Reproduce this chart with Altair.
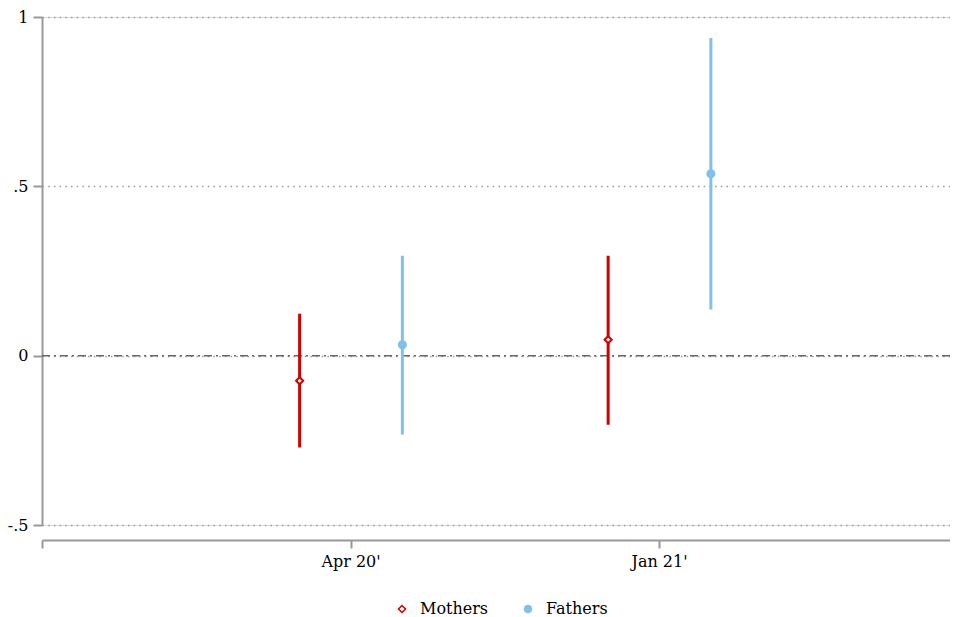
import altair as alt
import pandas as pd

series = ["Mothers", "Mothers", "Fathers", "Fathers"]
xpos = [0.835, 1.835, 1.168, 2.168]
estimate = [-0.074, 0.047, 0.032, 0.537]
ci_low = [-0.271, -0.204, -0.233, 0.136]
ci_high = [0.124, 0.295, 0.295, 0.938]

x_ticks = [0, 1, 2]
x_labels = ["", "Apr 20'", "Jan 21'"]
y_ticks = [-0.5, 0, 0.5, 1]
y_labels = ["-.5", "0", ".5", "1"]

df = pd.DataFrame({"series": series, "x": xpos, "est": estimate,
                   "lo": ci_low, "hi": ci_high})

FONT = "DejaVu Serif"
RED = "#d00000"
BLUE = "#80c0ea"

dom = ["Mothers", "Fathers"]
color = alt.Color("series:N", scale=alt.Scale(domain=dom, range=[RED, BLUE]),
                  legend=alt.Legend(title=None, orient="none", direction="horizontal",
                                    legendX=352, legendY=584, labelFont=FONT,
                                    labelFontSize=16, labelColor="black",
                                    symbolSize=50, columnPadding=31, padding=0,
                                    labelOffset=10))
shape = alt.Shape("series:N", scale=alt.Scale(domain=dom, range=["diamond", "circle"]))
fill = alt.Fill("series:N", scale=alt.Scale(domain=dom, range=["white", BLUE]))

xlabel_expr = " : ".join(
    f"datum.value == {v} ? \"{l}\"" for v, l in zip(x_ticks, x_labels)) + " : ''"
x = alt.X("x:Q", scale=alt.Scale(domain=[0, 2.943], nice=False, zero=False),
          axis=alt.Axis(values=x_ticks, labelExpr=xlabel_expr, title=None, grid=False,
                        offset=15, domainColor="#999999", domainWidth=2,
                        tickColor="#999999", tickWidth=2, tickSize=8,
                        labelFont=FONT, labelFontSize=16, labelColor="black",
                        labelPadding=5))
ylabel_expr = " : ".join(
    f"datum.value == {v} ? '{l}'" for v, l in zip(y_ticks, y_labels)) + " : ''"
y_axis = alt.Axis(values=y_ticks, labelExpr=ylabel_expr, title=None, grid=True,
                  gridColor="#999999", gridDash=[1.5, 4.2], gridWidth=1.5,
                  domainColor="#999999", domainWidth=2, tickColor="#999999",
                  tickWidth=2, tickSize=9, labelFont=FONT, labelFontSize=16,
                  labelColor="black", labelPadding=5)

base = alt.Chart(df)

rules = base.mark_rule(strokeWidth=3).encode(
    x=x,
    y=alt.Y("lo:Q", scale=alt.Scale(domain=[-0.5, 1], nice=False), axis=y_axis),
    y2="hi:Q",
    color=color,
)

zero = alt.Chart(pd.DataFrame({"z": [0]})).mark_rule(
    color="#666666", strokeWidth=1.5, strokeDash=[8, 4, 2, 4]
).encode(y="z:Q")

points = base.mark_point(size=50, strokeWidth=2, opacity=1).encode(
    x="x:Q",
    y="est:Q",
    color=color,
    shape=shape,
    fill=fill,
)

chart = alt.layer(zero, rules, points).properties(
    width=908, height=508,
    autosize=alt.AutoSizeParams(type="none"),
    padding={"left": 34, "top": 9, "right": 0, "bottom": 96},
).configure_view(stroke=None).configure(background="white")

chart.save("out.html", embed_options={"renderer": "svg", "actions": False})
